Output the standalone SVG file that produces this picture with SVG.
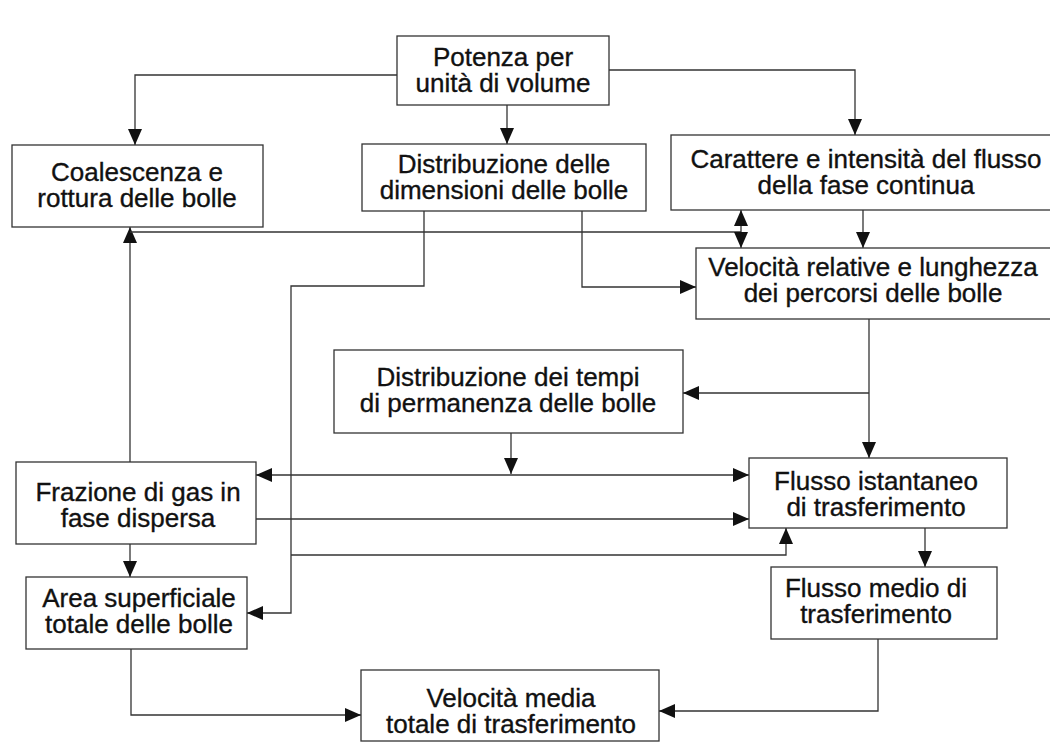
<svg xmlns="http://www.w3.org/2000/svg" width="1050" height="745" viewBox="0 0 1050 745">
<defs>
<marker id="ah" viewBox="0 0 16 14" refX="16" refY="7" markerWidth="16" markerHeight="14" markerUnits="userSpaceOnUse" orient="auto-start-reverse"><path d="M0,0 L16,7 L0,14 z" fill="#111"/></marker>
<style>
.box{fill:#fff;stroke:#333;stroke-width:1.3}
.t{font-family:"Liberation Sans",Arial,sans-serif;font-size:26px;fill:#111;stroke:#111;stroke-width:0.35;text-anchor:middle}
.c{fill:none;stroke:#333;stroke-width:1.3}
.a{marker-end:url(#ah)}
.b{marker-start:url(#ah);marker-end:url(#ah)}
</style>
</defs>
<rect width="1050" height="745" fill="#fff"/>
<g id="connectors">
<path class="c a" d="M397,75 H135 V145"/>
<path class="c a" d="M507,105 V144"/>
<path class="c a" d="M609,70 H855 V135"/>
<path class="c a" d="M130,462 V227"/>
<path class="c" d="M130,232 H741"/>
<path class="c b" d="M741,210 V248"/>
<path class="c a" d="M863,210 V248"/>
<path class="c a" d="M424,211 V286 H291 V613 H247"/>
<path class="c a" d="M291,555 H786 V528"/>
<path class="c a" d="M582,211 V287 H696"/>
<path class="c a" d="M869,319 V458"/>
<path class="c a" d="M869,393 H683"/>
<path class="c b" d="M256,475 H749"/>
<path class="c a" d="M511,433 V474"/>
<path class="c a" d="M256,519 H749"/>
<path class="c a" d="M130,544 V577"/>
<path class="c a" d="M131,649 V715 H361"/>
<path class="c a" d="M925,528 V567"/>
<path class="c a" d="M878,639 V711 H659"/>
</g>
<g id="potenza"><rect class="box" x="397" y="36" width="212" height="69"/><text class="t" x="503" y="66">Potenza per</text><text class="t" x="503" y="92">unità di volume</text></g>
<g id="coalescenza"><rect class="box" x="12" y="145" width="251" height="82"/><text class="t" x="137" y="181">Coalescenza e</text><text class="t" x="137" y="207">rottura delle bolle</text></g>
<g id="distdimensioni"><rect class="box" x="362" y="144" width="284" height="67"/><text class="t" x="504" y="173">Distribuzione delle</text><text class="t" x="504" y="199">dimensioni delle bolle</text></g>
<g id="carattere"><rect class="box" x="671" y="135" width="400" height="75"/><text class="t" x="866" y="168">Carattere e intensità del flusso</text><text class="t" x="866" y="194">della fase continua</text></g>
<g id="velrelative"><rect class="box" x="696" y="248" width="380" height="71"/><text class="t" x="873" y="276">Velocità relative e lunghezza</text><text class="t" x="873" y="302">dei percorsi delle bolle</text></g>
<g id="disttempi"><rect class="box" x="334" y="350" width="349" height="83"/><text class="t" x="508" y="386">Distribuzione dei tempi</text><text class="t" x="508" y="412">di permanenza delle bolle</text></g>
<g id="frazione"><rect class="box" x="16" y="462" width="240" height="82"/><text class="t" x="138" y="501">Frazione di gas in</text><text class="t" x="138" y="527">fase dispersa</text></g>
<g id="area"><rect class="box" x="26" y="577" width="221" height="72"/><text class="t" x="139" y="607">Area superficiale</text><text class="t" x="139" y="633">totale delle bolle</text></g>
<g id="flussoist"><rect class="box" x="749" y="458" width="258" height="70"/><text class="t" x="876" y="490">Flusso istantaneo</text><text class="t" x="876" y="516">di trasferimento</text></g>
<g id="flussomedio"><rect class="box" x="771" y="567" width="226" height="72"/><text class="t" x="876" y="597">Flusso medio di</text><text class="t" x="876" y="623">trasferimento</text></g>
<g id="velmedia"><rect class="box" x="361" y="670" width="298" height="71"/><text class="t" x="511" y="707">Velocità media</text><text class="t" x="511" y="733">totale di trasferimento</text></g>
</svg>
